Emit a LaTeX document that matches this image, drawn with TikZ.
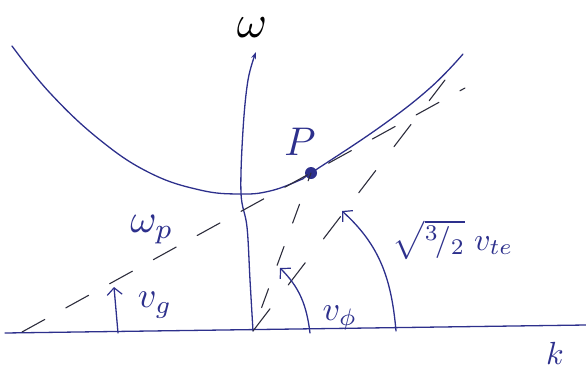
\documentclass[tikz,border=0pt]{standalone}
\usetikzlibrary{arrows.meta}
\definecolor{ink}{RGB}{45,48,140}
\definecolor{pencil}{RGB}{45,45,60}
\begin{document}
\begin{tikzpicture}[x=1pt,y=1pt,
  inkline/.style={draw=ink, line width=1.3pt, line cap=round, line join=round},
  dashline/.style={draw=pencil, line width=1.1pt, line cap=round, dash pattern=on 26pt off 24pt},
  arcarrow/.style={inkline, -{Straight Barb[length=7pt,width=15pt,line width=1.2pt]}},
  lab/.style={text=ink, inner sep=0pt}]
\useasboundingbox (0,0) rectangle (586,-372);
% key points
\coordinate (O) at (253,-331);
\coordinate (kL) at (5,-333);
\coordinate (kR) at (586,-325);
\coordinate (P) at (311,-173);
\coordinate (tL) at (22,-332);
\coordinate (tR) at (465,-88);
\coordinate (aR) at (445,-80);
% axes
\draw[inkline] (kL) -- (kR);
\draw[inkline, -{Stealth[length=7pt,width=5pt]}] plot[smooth, tension=0.6] coordinates {(O) (250,-280) (247,-227) (241,-193) (243,-130) (248,-80) (256,-52)};
% dispersion curve
\draw[inkline] plot[smooth, tension=0.7] coordinates {(12,-46) (50,-93) (100,-140) (150,-173) (200,-190) (240,-194) (270,-191) (300,-180) (P) (380,-127) (430,-88) (463,-54)};
\node[circle, fill=ink, inner sep=0pt, minimum width=12pt, minimum height=10pt] (Pdot) at (P) {};
% dashed lines
\draw[dashline] (tL) -- (tR);
\draw[dashline, dash pattern=on 20pt off 25pt, dash phase=20pt] (O) -- (P);
\draw[dashline, dash pattern=on 28pt off 30pt] (O) -- (aR);
% angle arrows
\coordinate (gS) at (118,-333); \coordinate (gE) at (114,-287);
\draw[arcarrow] (gS) -- (gE);
\coordinate (fS) at (310,-333); \coordinate (fE) at (280,-268);
\draw[arcarrow] (fS) to[out=97,in=-45] (fE);
\coordinate (sS) at (396,-331); \coordinate (sE) at (342,-211);
\draw[arcarrow] (sS) to[out=95,in=-42] (sE);
% labels
\node[lab, text=black, scale=4.6] (wl) at (252,-28) {$\omega$};
\node[lab, scale=4.0] (wp) at (152,-230) {$\omega_p$};
\node[lab, scale=3.6] (vg) at (155,-305) {$v_g$};
\node[lab, scale=3.4] (vf) at (340,-318) {$v_\phi$};
\node[lab, scale=3.2] (vte) at (453,-240) {$\sqrt{{}^{3\!}/{}_{2}}\;v_{te}$};
\node[lab, scale=3.2] (kl) at (555,-353) {$k$};
\node[lab, scale=4.0] (Pl) at (300,-142) {$P$};
\end{tikzpicture}
\end{document}
